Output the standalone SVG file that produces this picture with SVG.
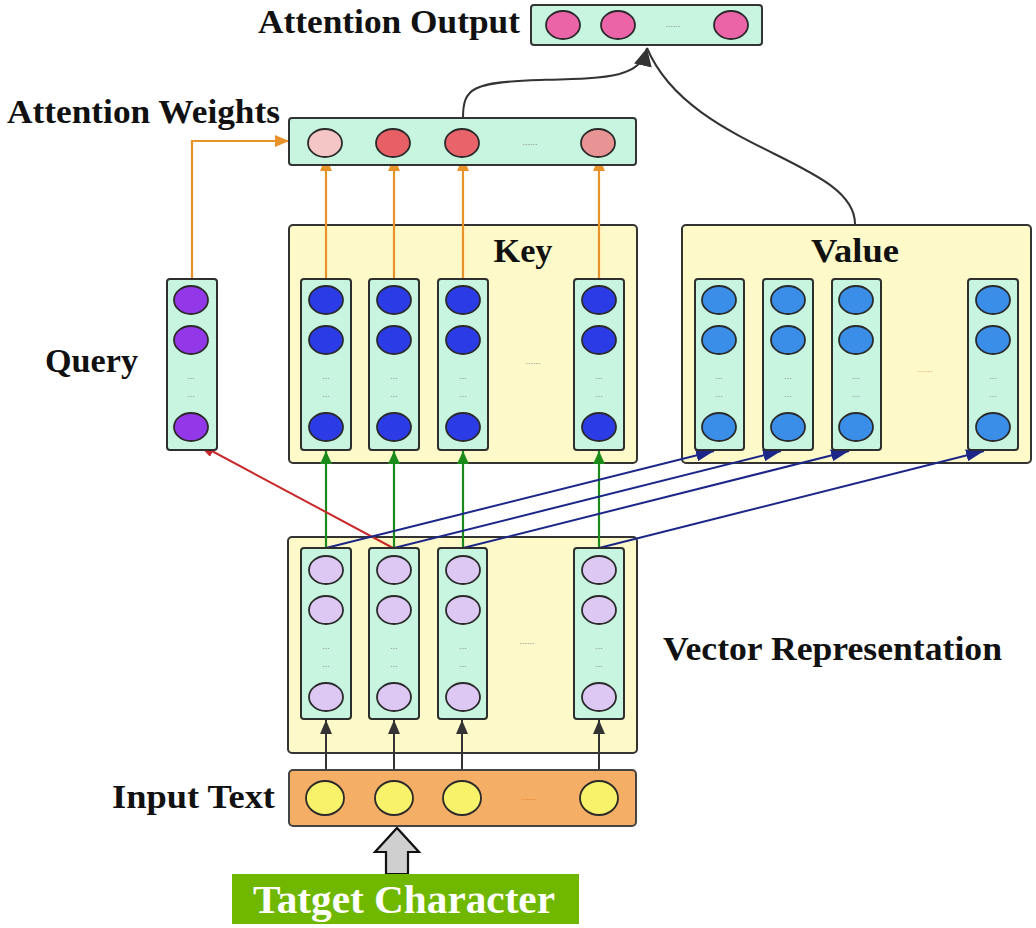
<svg xmlns="http://www.w3.org/2000/svg" width="1036" height="928" viewBox="0 0 1036 928">
<style>
.lbl{font-family:"Liberation Serif","Times New Roman",serif;font-weight:bold;font-size:33px;fill:#111}
.col{fill:#c8f5e0;stroke:#2e2e2e;stroke-width:2}
.panel{fill:#fdf9c8;stroke:#333;stroke-width:2}
.bar{fill:#c8f5e0;stroke:#333;stroke-width:2}
.c{stroke:#2a2a2a;stroke-width:1.8}
.dots{font-family:"Liberation Sans",sans-serif;font-size:9px;fill:#8a8a8a;text-anchor:middle}
.or{stroke:#e8922a;stroke-width:2.2;fill:none}
.gr{stroke:#1a8a1a;stroke-width:2.2;fill:none}
.nv{stroke:#1c2688;stroke-width:2;fill:none}
.rd{stroke:#c8282a;stroke-width:2;fill:none}
.bk{stroke:#333;stroke-width:2;fill:none}
</style>
<defs>
<marker id="mo" markerUnits="userSpaceOnUse" markerWidth="14" markerHeight="12" refX="14" refY="6" orient="auto"><path d="M0,0 L14,6 L0,12 z" fill="#e8922a"/></marker>
<marker id="mg" markerUnits="userSpaceOnUse" markerWidth="13" markerHeight="12" refX="13" refY="6" orient="auto"><path d="M0,0 L13,6 L0,12 z" fill="#1a8a1a"/></marker>
<marker id="mn" markerUnits="userSpaceOnUse" markerWidth="18" markerHeight="12" refX="18" refY="6" orient="auto"><path d="M0,0 L18,6 L0,12 z" fill="#1c2688"/></marker>
<marker id="mr" markerUnits="userSpaceOnUse" markerWidth="18" markerHeight="12" refX="18" refY="6" orient="auto"><path d="M0,0 L18,6 L0,12 z" fill="#c8282a"/></marker>
<marker id="mb" markerUnits="userSpaceOnUse" markerWidth="14" markerHeight="12" refX="14" refY="6" orient="auto"><path d="M0,0 L14,6 L0,12 z" fill="#333"/></marker>
<marker id="mk" markerUnits="userSpaceOnUse" markerWidth="18" markerHeight="18" refX="18" refY="9" orient="auto"><path d="M0,0 L18,9 L0,18 z" fill="#333"/></marker>
</defs>
<rect width="1036" height="928" fill="#ffffff"/>

<!-- Panels -->
<g id="key-panel"><rect class="panel" x="289" y="225" width="348" height="238" rx="4"/><text class="lbl" x="523" y="262" text-anchor="middle" textLength="59" lengthAdjust="spacingAndGlyphs">Key</text></g>
<g id="value-panel"><rect class="panel" x="682" y="225" width="349" height="238" rx="4"/><text class="lbl" x="855" y="262" text-anchor="middle" textLength="88" lengthAdjust="spacingAndGlyphs">Value</text></g>
<g id="vector-panel"><rect class="panel" x="288" y="537" width="349" height="216" rx="4"/></g>

<!-- Connectors -->
<g id="connectors">
<path class="bk" d="M463,118 C463,88 472,82 540,80 C610,78 640,78 647,48" marker-end="url(#mk)"/>
<path class="bk" d="M855,224 C855,160 690,150 647,48"/>
<path class="or" d="M192,279 V141 H289" marker-end="url(#mo)"/>
<path class="or" d="M326,279 V157" marker-end="url(#mo)"/>
<path class="or" d="M394,279 V157" marker-end="url(#mo)"/>
<path class="or" d="M463,279 V157" marker-end="url(#mo)"/>
<path class="or" d="M599,279 V157" marker-end="url(#mo)"/>
<path class="gr" d="M326,548 V451" marker-end="url(#mg)"/>
<path class="gr" d="M394,548 V451" marker-end="url(#mg)"/>
<path class="gr" d="M463,548 V451" marker-end="url(#mg)"/>
<path class="gr" d="M599,548 V451" marker-end="url(#mg)"/>
<path class="rd" d="M393,548 L197,443" marker-end="url(#mr)"/>
<path class="nv" d="M326,548 L714,451" marker-end="url(#mn)"/>
<path class="nv" d="M394,548 L781,451" marker-end="url(#mn)"/>
<path class="nv" d="M463,548 L849,451" marker-end="url(#mn)"/>
<path class="nv" d="M599,548 L984,451" marker-end="url(#mn)"/>
<path class="bk" d="M326,779 V720" marker-end="url(#mb)"/>
<path class="bk" d="M394,779 V720" marker-end="url(#mb)"/>
<path class="bk" d="M462,779 V720" marker-end="url(#mb)"/>
<path class="bk" d="M599,779 V720" marker-end="url(#mb)"/>
<path d="M386,874 V852 H375 L397,828 L419,852 H408 V874 Z" fill="#cfcfcf" stroke="#111" stroke-width="2.2"/>
</g>

<!-- Attention Output -->
<g id="attention-output">
<text class="lbl" x="258" y="33" textLength="262" lengthAdjust="spacingAndGlyphs">Attention Output</text>
<rect class="bar" x="531" y="5" width="231" height="40" rx="3"/>
<ellipse class="c" cx="563" cy="25" rx="17" ry="14" fill="#ec64a8"/>
<ellipse class="c" cx="618" cy="25" rx="17" ry="14" fill="#ec64a8"/>
<ellipse class="c" cx="731" cy="25" rx="17" ry="14" fill="#ec64a8"/>
<text class="dots" x="673" y="27">......</text>
</g>

<!-- Attention Weights -->
<g id="attention-weights">
<text class="lbl" x="7" y="123" textLength="273" lengthAdjust="spacingAndGlyphs">Attention Weights</text>
<rect class="bar" x="289" y="118" width="347" height="47" rx="3"/>
<ellipse class="c" cx="325" cy="143" rx="17" ry="14" fill="#f5c6c6"/>
<ellipse class="c" cx="393" cy="143" rx="17" ry="14" fill="#e86066"/>
<ellipse class="c" cx="462" cy="143" rx="17" ry="14" fill="#e8646a"/>
<ellipse class="c" cx="598" cy="143" rx="17" ry="14" fill="#e89494"/>
<text class="dots" x="530" y="145">......</text>
</g>

<!-- Query -->
<g id="query">
<text class="lbl" x="45" y="372" textLength="93" lengthAdjust="spacingAndGlyphs">Query</text>
<rect class="col" x="167" y="279" width="50" height="171" rx="3"/>
<ellipse class="c" cx="191" cy="300" rx="17" ry="14" fill="#9338e8"/>
<ellipse class="c" cx="191" cy="340" rx="17" ry="14" fill="#9338e8"/>
<ellipse class="c" cx="191" cy="427" rx="17" ry="14" fill="#9338e8"/>
<text class="dots" x="191" y="379">...</text><text class="dots" x="191" y="397">...</text>
</g>

<!-- Key columns -->
<g id="key-columns">
<g id="key-1"><rect class="col" x="301" y="279" width="50" height="171" rx="3"/>
<ellipse class="c" cx="326" cy="300" rx="17" ry="14" fill="#2b3ce6"/><ellipse class="c" cx="326" cy="340" rx="17" ry="14" fill="#2b3ce6"/><ellipse class="c" cx="326" cy="427" rx="17" ry="14" fill="#2b3ce6"/>
<text class="dots" x="326" y="379">...</text><text class="dots" x="326" y="397">...</text></g>
<g id="key-2"><rect class="col" x="369" y="279" width="50" height="171" rx="3"/>
<ellipse class="c" cx="394" cy="300" rx="17" ry="14" fill="#2b3ce6"/><ellipse class="c" cx="394" cy="340" rx="17" ry="14" fill="#2b3ce6"/><ellipse class="c" cx="394" cy="427" rx="17" ry="14" fill="#2b3ce6"/>
<text class="dots" x="394" y="379">...</text><text class="dots" x="394" y="397">...</text></g>
<g id="key-3"><rect class="col" x="438" y="279" width="50" height="171" rx="3"/>
<ellipse class="c" cx="463" cy="300" rx="17" ry="14" fill="#2b3ce6"/><ellipse class="c" cx="463" cy="340" rx="17" ry="14" fill="#2b3ce6"/><ellipse class="c" cx="463" cy="427" rx="17" ry="14" fill="#2b3ce6"/>
<text class="dots" x="463" y="379">...</text><text class="dots" x="463" y="397">...</text></g>
<g id="key-n"><rect class="col" x="574" y="279" width="50" height="171" rx="3"/>
<ellipse class="c" cx="599" cy="300" rx="17" ry="14" fill="#2b3ce6"/><ellipse class="c" cx="599" cy="340" rx="17" ry="14" fill="#2b3ce6"/><ellipse class="c" cx="599" cy="427" rx="17" ry="14" fill="#2b3ce6"/>
<text class="dots" x="599" y="379">...</text><text class="dots" x="599" y="397">...</text></g>
<text class="dots" x="533" y="364">......</text>
</g>

<!-- Value columns -->
<g id="value-columns">
<g id="value-1"><rect class="col" x="695" y="279" width="49" height="171" rx="3"/>
<ellipse class="c" cx="719" cy="300" rx="17" ry="14" fill="#3a8ee8"/><ellipse class="c" cx="719" cy="340" rx="17" ry="14" fill="#3a8ee8"/><ellipse class="c" cx="719" cy="427" rx="17" ry="14" fill="#3a8ee8"/>
<text class="dots" x="719" y="379">...</text><text class="dots" x="719" y="397">...</text></g>
<g id="value-2"><rect class="col" x="763" y="279" width="50" height="171" rx="3"/>
<ellipse class="c" cx="788" cy="300" rx="17" ry="14" fill="#3a8ee8"/><ellipse class="c" cx="788" cy="340" rx="17" ry="14" fill="#3a8ee8"/><ellipse class="c" cx="788" cy="427" rx="17" ry="14" fill="#3a8ee8"/>
<text class="dots" x="788" y="379">...</text><text class="dots" x="788" y="397">...</text></g>
<g id="value-3"><rect class="col" x="832" y="279" width="49" height="171" rx="3"/>
<ellipse class="c" cx="856" cy="300" rx="17" ry="14" fill="#3a8ee8"/><ellipse class="c" cx="856" cy="340" rx="17" ry="14" fill="#3a8ee8"/><ellipse class="c" cx="856" cy="427" rx="17" ry="14" fill="#3a8ee8"/>
<text class="dots" x="856" y="379">...</text><text class="dots" x="856" y="397">...</text></g>
<g id="value-n"><rect class="col" x="968" y="279" width="50" height="171" rx="3"/>
<ellipse class="c" cx="993" cy="300" rx="17" ry="14" fill="#3a8ee8"/><ellipse class="c" cx="993" cy="340" rx="17" ry="14" fill="#3a8ee8"/><ellipse class="c" cx="993" cy="427" rx="17" ry="14" fill="#3a8ee8"/>
<text class="dots" x="993" y="379">...</text><text class="dots" x="993" y="397">...</text></g>
<text class="dots" x="925" y="372" style="fill:#e8a070">......</text>
</g>

<!-- Vector Representation columns -->
<g id="vector-representation">
<text class="lbl" x="663" y="660" textLength="339" lengthAdjust="spacingAndGlyphs">Vector Representation</text>
<g id="vec-1"><rect class="col" x="301" y="548" width="50" height="171" rx="3"/>
<ellipse class="c" cx="326" cy="570" rx="17" ry="14" fill="#dcc8f2"/><ellipse class="c" cx="326" cy="610" rx="17" ry="14" fill="#dcc8f2"/><ellipse class="c" cx="326" cy="697" rx="17" ry="14" fill="#dcc8f2"/>
<text class="dots" x="326" y="649">...</text><text class="dots" x="326" y="667">...</text></g>
<g id="vec-2"><rect class="col" x="369" y="548" width="50" height="171" rx="3"/>
<ellipse class="c" cx="394" cy="570" rx="17" ry="14" fill="#dcc8f2"/><ellipse class="c" cx="394" cy="610" rx="17" ry="14" fill="#dcc8f2"/><ellipse class="c" cx="394" cy="697" rx="17" ry="14" fill="#dcc8f2"/>
<text class="dots" x="394" y="649">...</text><text class="dots" x="394" y="667">...</text></g>
<g id="vec-3"><rect class="col" x="438" y="548" width="49" height="171" rx="3"/>
<ellipse class="c" cx="463" cy="570" rx="17" ry="14" fill="#dcc8f2"/><ellipse class="c" cx="463" cy="610" rx="17" ry="14" fill="#dcc8f2"/><ellipse class="c" cx="463" cy="697" rx="17" ry="14" fill="#dcc8f2"/>
<text class="dots" x="463" y="649">...</text><text class="dots" x="463" y="667">...</text></g>
<g id="vec-n"><rect class="col" x="574" y="548" width="50" height="171" rx="3"/>
<ellipse class="c" cx="599" cy="570" rx="17" ry="14" fill="#dcc8f2"/><ellipse class="c" cx="599" cy="610" rx="17" ry="14" fill="#dcc8f2"/><ellipse class="c" cx="599" cy="697" rx="17" ry="14" fill="#dcc8f2"/>
<text class="dots" x="599" y="649">...</text><text class="dots" x="599" y="667">...</text></g>
<text class="dots" x="527" y="644">......</text>
</g>

<!-- Input Text -->
<g id="input-text">
<text class="lbl" x="112" y="808" textLength="163" lengthAdjust="spacingAndGlyphs">Input Text</text>
<rect x="289" y="770" width="347" height="56" rx="4" fill="#f4ae66" stroke="#444" stroke-width="2"/>
<ellipse class="c" cx="325" cy="798" rx="19" ry="17" fill="#f8f26a"/>
<ellipse class="c" cx="394" cy="798" rx="19" ry="17" fill="#f8f26a"/>
<ellipse class="c" cx="462" cy="798" rx="19" ry="17" fill="#f8f26a"/>
<ellipse class="c" cx="599" cy="798" rx="19" ry="17" fill="#f8f26a"/>
<text class="dots" x="529" y="800" style="fill:#e07a20">......</text>
</g>

<!-- Target Character -->
<g id="target-character">
<rect x="232" y="874" width="347" height="50" fill="#70b800"/>
<text class="lbl" x="253" y="913" style="font-size:39px;fill:#ffffff" textLength="302" lengthAdjust="spacingAndGlyphs">Tatget Character</text>
</g>
</svg>
